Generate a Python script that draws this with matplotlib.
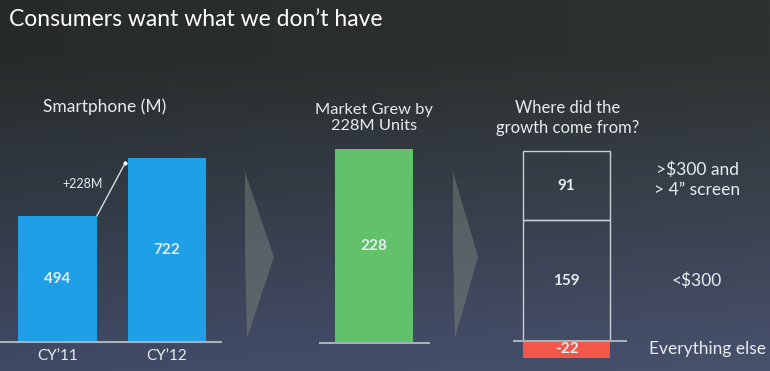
import numpy as np
import matplotlib
matplotlib.use('Agg')
import matplotlib.pyplot as plt
from matplotlib.patches import Polygon

plt.rcParams['font.family'] = ['Lato', 'DejaVu Sans']

# data
years = ['CY\u201911', 'CY\u201912']
units = [494, 722]
growth = 228
seg_names = ['<\\$300', '>\\$300 and\n> 4\u201d screen', 'Everything else']
seg_vals = [159, 91, -22]

W, H = 770, 371
fig = plt.figure(figsize=(W / 100, H / 100), dpi=100)


def fx(x):
    return x / W


def fy(y):
    return 1 - y / H


# background gradient
bg = fig.add_axes([0, 0, 1, 1])
yy, xx = np.mgrid[0:1:200j, 0:1:300j]
top = np.array([0.15, 0.17, 0.16])
bot = np.array([0.25, 0.29, 0.40])
t = np.clip((yy - 0.15) / 0.85, 0, 1)[..., None]
img = top * (1 - t) + bot * t + (xx[..., None] * 0.03)
bg.imshow(img, aspect='auto', extent=[0, 1, 1, 0])
bg.set_xlim(0, 1)
bg.set_ylim(1, 0)
bg.axis('off')

fig.text(fx(9), fy(19), 'Consumers want what we don\u2019t have', fontsize=16.5,
         color='white', va='center', ha='left')

txt = '#e6ecef'

# chevrons
for x0, x1 in [(245, 274), (453, 478)]:
    pts = [(fx(x0), fy(172)), (fx(x1), fy(257)), (fx(x0 + 2), fy(338)), (fx(x0), fy(250))]
    fig.patches.append(Polygon(pts, closed=True, transform=fig.transFigure,
                               facecolor='#7d8a80', alpha=0.45, edgecolor='none'))

# left panel: smartphone units
s1 = 0.2555
ax1 = fig.add_axes([0, 0, fx(222), 1])
ax1.set_ylim(-(H - 342) / s1, 342 / s1)
ax1.set_xlim(-0.525, 1.502)
w1 = 0.72
ax1.bar(range(len(units)), units, width=w1, color='#1f9fe6')
ax1.axhline(0, color='#a9b0b8', lw=1.5)
for i, v in enumerate(units):
    ax1.text(i, v / 2, str(v), ha='center', va='center', color=txt, fontsize=11, fontweight='bold')
    ax1.text(i, -14 / s1, years[i], ha='center', va='center', color=txt, fontsize=11)
ax1.plot([w1 / 2, 1 - w1 / 2 - 0.02], [units[0], units[1] - 20], color='#d8dde0', lw=1)
ax1.plot([1 - w1 / 2 - 0.02], [units[1] - 20], 'o', color='white', ms=2)
ax1.text(0.415, (units[0] + units[1]) / 2 + 10, '+%dM' % (units[1] - units[0]),
         ha='right', va='center', color=txt, fontsize=9)
ax1.axis('off')
fig.text(fx(105), fy(107), 'Smartphone (M)', ha='center', va='center', color=txt, fontsize=12.5)

# middle panel: market growth
s2 = 0.851
ax2 = fig.add_axes([fx(319), 0, fx(430 - 319), 1])
ax2.set_ylim(-(H - 343) / s2, 343 / s2)
ax2.set_xlim(-0.705, 0.718)
ax2.bar([0], [growth], width=1, color='#62c26b')
ax2.axhline(0, color='#a9b0b8', lw=1.5)
ax2.text(0, growth / 2, str(growth), ha='center', va='center', color=txt, fontsize=11, fontweight='bold')
ax2.axis('off')
fig.text(fx(374), fy(118), 'Market Grew by\n%dM Units' % growth, ha='center', va='center',
         color=txt, fontsize=11.8, linespacing=1.25)

# right panel: where growth came from
s3 = 0.76
ax3 = fig.add_axes([fx(513), 0, fx(627 - 513), 1])
ax3.set_ylim(-(H - 341) / s3, 341 / s3)
ax3.set_xlim(-0.615, 0.695)
bottom = 0
for name, v in zip(seg_names, seg_vals):
    if v < 0:
        ax3.bar([0], [v], width=1, color='#f2574a')
        mid = v / 2
    else:
        ax3.bar([0], [v], bottom=bottom, width=1, facecolor='none', edgecolor='#c9ced2', lw=1)
        mid = bottom + v / 2
        bottom += v
    ax3.text(0, mid, str(v), ha='center', va='center', color=txt, fontsize=11, fontweight='bold')
    lx = 1.615 if v < 0 else 1.5
    ax3.text(lx, mid + (8 if 0 < v < 100 else 0), name, ha='center', va='center',
             color=txt, fontsize=12.5, linespacing=1.3, clip_on=False)
ax3.axhline(0, color='#a9b0b8', lw=1.5)
ax3.axis('off')
fig.text(fx(568), fy(118), 'Where did the\ngrowth come from?', ha='center', va='center',
         color=txt, fontsize=12, linespacing=1.25)

fig.savefig('out.png', dpi=100)
